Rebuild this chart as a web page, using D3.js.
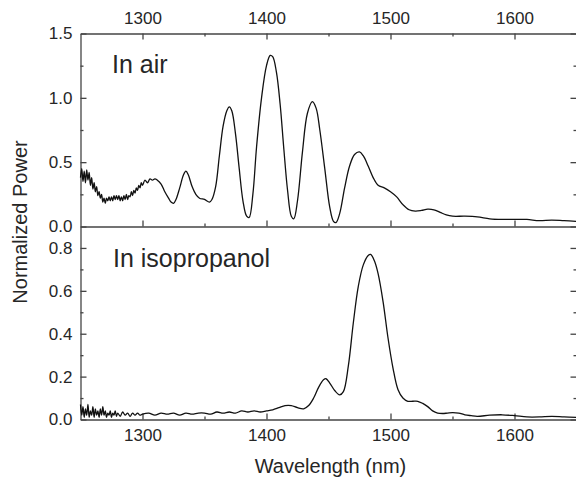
<!DOCTYPE html>
<html>
<head>
<meta charset="utf-8">
<script src="https://cdn.jsdelivr.net/npm/d3@7"></script>
<style>
  body { margin: 0; background: #fff; }
  text { font-family: Arial, "Liberation Sans", sans-serif; fill: #262626; }
</style>
</head>
<body>
<svg id="spectra" width="576" height="481"></svg>
<script>
// wavelengths (nm) and normalized power
const airWl = [
  1250, 1251, 1252, 1253, 1254, 1255, 1256, 1257, 1258, 1259,
  1260, 1261, 1262, 1263, 1264, 1265, 1266, 1267, 1268, 1269,
  1270, 1271, 1272, 1273, 1274, 1275, 1276, 1277, 1278, 1279,
  1280, 1281, 1282, 1283, 1284, 1285, 1286, 1287, 1288, 1289,
  1290, 1291, 1292, 1293, 1294, 1295, 1296, 1297, 1298, 1299,
  1300, 1302, 1304, 1306, 1308, 1310, 1312, 1315, 1318, 1321,
  1323, 1325, 1327, 1330, 1333, 1335, 1337, 1340, 1343, 1346,
  1350, 1354, 1356, 1359, 1362, 1365, 1368, 1370, 1372, 1375,
  1378, 1381, 1384, 1386, 1389, 1392, 1396, 1400, 1403, 1405,
  1408, 1411, 1414, 1417, 1420, 1422, 1425, 1429, 1433, 1437,
  1440, 1443, 1447, 1451, 1454, 1456, 1459, 1463, 1467, 1471,
  1475, 1478, 1482, 1486, 1490, 1495, 1500, 1505, 1510, 1515,
  1520, 1525, 1530, 1535, 1540, 1545, 1550, 1560, 1570, 1580,
  1590, 1600, 1610, 1620, 1630, 1640, 1650
];
const airPow = [
  0.38, 0.45, 0.35, 0.43, 0.34, 0.44, 0.36, 0.42, 0.32, 0.38,
  0.29, 0.34, 0.27, 0.31, 0.24, 0.27, 0.22, 0.25, 0.19, 0.22,
  0.18, 0.22, 0.20, 0.23, 0.20, 0.23, 0.20, 0.24, 0.21, 0.24,
  0.21, 0.24, 0.20, 0.23, 0.20, 0.24, 0.21, 0.25, 0.21, 0.24,
  0.23, 0.27, 0.24, 0.28, 0.26, 0.30, 0.28, 0.32, 0.30, 0.34,
  0.32, 0.36, 0.34, 0.37, 0.36, 0.37, 0.36, 0.33, 0.27, 0.22,
  0.19, 0.18, 0.21, 0.30, 0.40, 0.43, 0.40, 0.31, 0.25, 0.22,
  0.21, 0.19, 0.21, 0.31, 0.55, 0.78, 0.90, 0.93, 0.90, 0.72,
  0.45, 0.20, 0.08, 0.07, 0.25, 0.62, 1.00, 1.25, 1.33, 1.32,
  1.20, 0.95, 0.60, 0.28, 0.08, 0.06, 0.20, 0.58, 0.88, 0.97,
  0.92, 0.75, 0.45, 0.15, 0.04, 0.03, 0.10, 0.30, 0.47, 0.56,
  0.58, 0.55, 0.47, 0.38, 0.32, 0.30, 0.27, 0.23, 0.17, 0.13,
  0.12, 0.125, 0.135, 0.13, 0.11, 0.09, 0.08, 0.08, 0.075, 0.06,
  0.055, 0.055, 0.055, 0.045, 0.05, 0.045, 0.04
];

const isoWl = [
  1250, 1251, 1252, 1253, 1254, 1255, 1256, 1257, 1258, 1259,
  1260, 1261, 1262, 1263, 1264, 1265, 1266, 1267, 1268, 1269,
  1270, 1271, 1272, 1273, 1274, 1275, 1276, 1277, 1278, 1279,
  1280, 1282, 1284, 1286, 1288, 1290, 1292, 1294, 1296, 1298,
  1300, 1305, 1310, 1315, 1320, 1325, 1330, 1335, 1340, 1345,
  1350, 1355, 1360, 1365, 1370, 1375, 1380, 1385, 1390, 1395,
  1400, 1405, 1410, 1415, 1420, 1425, 1430, 1434, 1438, 1442,
  1446, 1448, 1451, 1455, 1459, 1462, 1466, 1470, 1474, 1478,
  1482, 1484, 1487, 1490, 1494, 1498, 1502, 1506, 1510, 1514,
  1518, 1522, 1526, 1530, 1534, 1538, 1542, 1546, 1550, 1555,
  1560, 1565, 1570, 1580, 1590, 1600, 1610, 1620, 1630, 1640,
  1650
];
const isoPow = [
  0.07, 0.02, 0.06, 0.01, 0.05, 0.02, 0.07, 0.01, 0.04, 0.02,
  0.06, 0.01, 0.05, 0.02, 0.04, 0.01, 0.05, 0.02, 0.06, 0.02,
  0.04, 0.01, 0.03, 0.02, 0.04, 0.01, 0.03, 0.02, 0.04, 0.015,
  0.03, 0.015, 0.035, 0.02, 0.03, 0.015, 0.03, 0.02, 0.03, 0.02,
  0.025, 0.03, 0.02, 0.03, 0.025, 0.03, 0.02, 0.03, 0.025, 0.03,
  0.03, 0.025, 0.035, 0.03, 0.035, 0.03, 0.04, 0.035, 0.04, 0.035,
  0.04, 0.045, 0.055, 0.065, 0.065, 0.055, 0.05, 0.065, 0.10, 0.15,
  0.185, 0.19, 0.17, 0.135, 0.115, 0.13, 0.25, 0.45, 0.62, 0.72,
  0.765, 0.77, 0.74, 0.68, 0.55, 0.38, 0.24, 0.14, 0.10, 0.085,
  0.085, 0.085, 0.075, 0.06, 0.04, 0.03, 0.028, 0.03, 0.032, 0.03,
  0.022, 0.018, 0.015, 0.02, 0.022, 0.018, 0.012, 0.012, 0.015, 0.012,
  0.01
];

const xTicks = [1300, 1400, 1500, 1600];
const xMinor = [1350, 1450, 1550, 1650];
const airTicks = [0, 0.5, 1.0, 1.5];
const airMinor = [0.25, 0.75, 1.25];
const isoTicks = [0, 0.2, 0.4, 0.6, 0.8];
const isoMinor = [0.1, 0.3, 0.5, 0.7];

const MAJOR = 6;
const MINOR = 3;
const left = 80.5, right = 576.5;
const topY = 33.5, midY = 226.5, botY = 419.5;

const svg = d3.select("#spectra");

const x = d3.scaleLinear().domain([1250, 1650]).range([left, right]);
const yAir = d3.scaleLinear().domain([0, 1.5]).range([midY, topY]);
const yIso = d3.scaleLinear().domain([0, 0.9]).range([botY, midY]);

// one helper for a set of inward ticks (major with labels + unlabeled minor)
function axisPair(g, axisFn, scale, major, minor, fmt, showLabels, pad) {
  g.append("g")
    .call(
      axisFn(scale)
        .tickValues(major)
        .tickSizeInner(-MAJOR)
        .tickSizeOuter(0)
        .tickPadding(pad)
        .tickFormat(showLabels ? fmt : () => "")
    );
  g.append("g")
    .call(
      axisFn(scale)
        .tickValues(minor)
        .tickSizeInner(-MINOR)
        .tickSizeOuter(0)
        .tickFormat(() => "")
    )
    .select(".domain")
    .remove();
}

const fmtX = d3.format("d");
const fmtY = d3.format(".1f");

function panel(y, major, minor, topLabels, bottomLabels, y0, y1) {
  const g = svg.append("g");
  axisPair(g.append("g").attr("transform", `translate(${left},0)`), d3.axisLeft, y, major, minor, fmtY, true, 8);
  axisPair(g.append("g").attr("transform", `translate(${right},0)`), d3.axisRight, y, major, minor, fmtY, false, 8);
  axisPair(g.append("g").attr("transform", `translate(0,${y1})`), d3.axisBottom, x, xTicks, xMinor, fmtX, bottomLabels, 9);
  if (topLabels !== null) {
    axisPair(g.append("g").attr("transform", `translate(0,${y0})`), d3.axisTop, x, xTicks, xMinor, fmtX, topLabels, 10);
  }
  return g;
}

panel(yAir, airTicks, airMinor, true, false, topY, midY);
panel(yIso, isoTicks, isoMinor, null, true, midY, botY);

svg.selectAll(".tick text").attr("font-size", "17px").attr("fill", "#2a2a2a");
svg.selectAll(".domain, .tick line").attr("stroke", "#444").attr("stroke-width", 1.3);

// spectra
const airLine = d3.line().x((d, i) => x(airWl[i])).y((d) => yAir(d)).curve(d3.curveCatmullRom);
const isoLine = d3.line().x((d, i) => x(isoWl[i])).y((d) => yIso(d)).curve(d3.curveCatmullRom);

svg.append("path")
  .attr("d", airLine(airPow))
  .attr("fill", "none")
  .attr("stroke", "#111")
  .attr("stroke-width", 1.3);

svg.append("path")
  .attr("d", isoLine(isoPow))
  .attr("fill", "none")
  .attr("stroke", "#111")
  .attr("stroke-width", 1.3);

// panel captions
svg.append("text").attr("x", 112).attr("y", 73).attr("font-size", "25px").text("In air");
svg.append("text").attr("x", 113).attr("y", 267).attr("font-size", "25px").text("In isopropanol");

// axis titles
svg.append("text")
  .attr("x", (left + right) / 2 + 2)
  .attr("y", 473)
  .attr("text-anchor", "middle")
  .attr("font-size", "20px")
  .text("Wavelength (nm)");

svg.append("text")
  .attr("transform", "translate(27,222) rotate(-90)")
  .attr("text-anchor", "middle")
  .attr("font-size", "20px")
  .text("Normalized Power");
</script>
</body>
</html>
